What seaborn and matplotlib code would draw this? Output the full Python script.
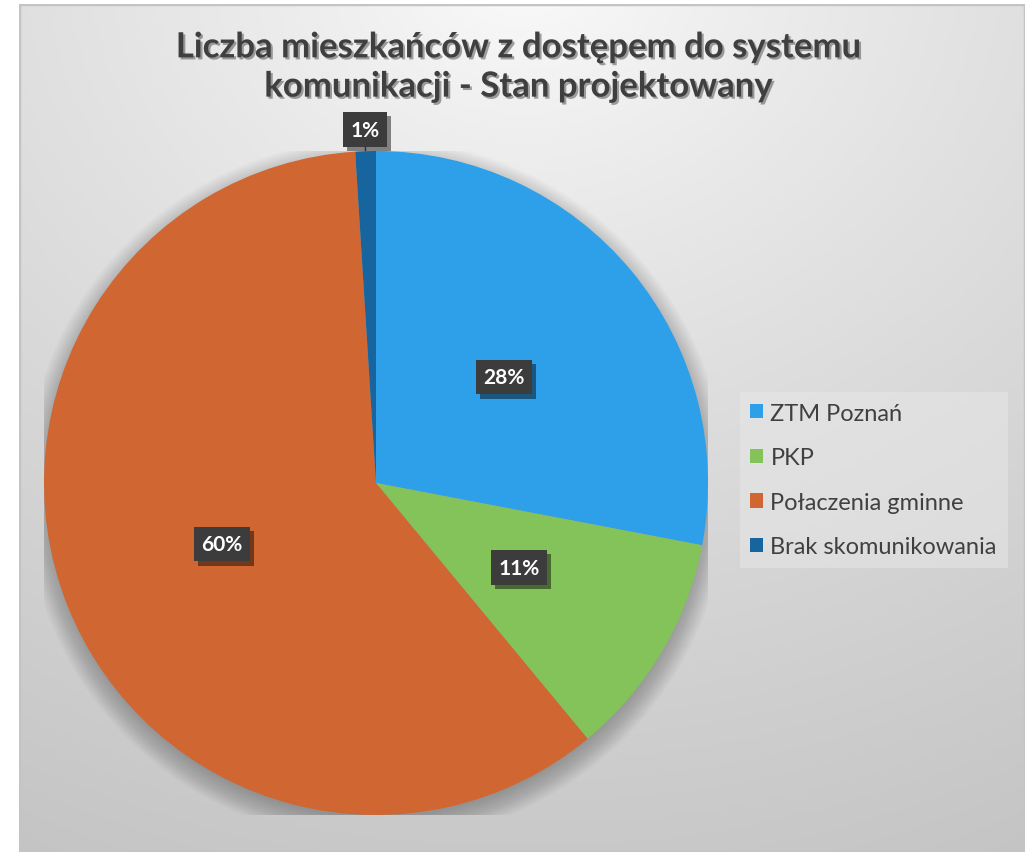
import numpy as np
import matplotlib
matplotlib.use("Agg")
import matplotlib.pyplot as plt
import matplotlib.patheffects as pe
from matplotlib.patches import Rectangle, Circle
import seaborn as sns

# Data
categories = ["ZTM Poznań", "PKP", "Połaczenia gminne", "Brak skomunikowania"]
shares = [28, 11, 60, 1]
pct_labels = ["28%", "11%", "60%", "1%"]
colors = ["#2E9FE9", "#84C25A", "#D06631", "#16659F"]
title = "Liczba mieszkańców z dostępem do systemu\nkomunikacji - Stan projektowany"

sns.set_theme(style="white")
plt.rcParams["font.family"] = ["Lato", "DejaVu Sans"]

W, H = 1025, 853
fig = plt.figure(figsize=(W / 100, H / 100), dpi=100)
fig.patch.set_facecolor("white")

# Chart area background: soft radial grey gradient
bg = fig.add_axes([19 / W, 0, 1 - 19 / W, 1 - 5 / H])
bg.set_axis_off()
ny, nx = 200, 240
yy, xx = np.mgrid[0:ny, 0:nx]
cx, cy = nx * 0.5, -ny * 0.05
d = np.sqrt(((xx - cx) / nx) ** 2 + ((yy - cy) / ny) ** 2)
d = d / d.max()
val = 0.99 - 0.22 * np.clip(d, 0, 1) ** 0.8
img = np.dstack([val, val, val])
bg.imshow(img, extent=[0, 1, 0, 1], aspect="auto", origin="upper", zorder=0)
bg.add_patch(Rectangle((0, 0), 1, 1, fill=False, edgecolor="#c4c4c4", lw=2.5,
                       transform=bg.transAxes))
bg.set_xlim(0, 1)
bg.set_ylim(0, 1)

# Pie axes: centre (376, 484) px, radius 332 px
cxp, cyp, R = 376, 484, 332
ax = fig.add_axes([(cxp - R) / W, (H - cyp - R) / H, 2 * R / W, 2 * R / H])

# soft shadow under the pie
for k in range(22):
    ax.add_patch(Circle((0, -0.022), 0.985 + 0.0035 * k, facecolor="black",
                        alpha=0.011, lw=0, zorder=0))

wedges, _ = ax.pie(shares, colors=colors, startangle=90, counterclock=False,
                   radius=1.0, wedgeprops=dict(linewidth=0))
for w in wedges:
    w.set_zorder(2)
ax.set_axis_off()
ax.set_xlim(-1, 1)
ax.set_ylim(-1, 1)

label_fx = [pe.withSimplePatchShadow(offset=(3, -3), shadow_rgbFace="black", alpha=0.45)]
total = float(sum(shares))
start = 90.0
for lab, s in zip(pct_labels, shares):
    span = 360.0 * s / total
    mid = np.deg2rad(start - span / 2)
    start -= span
    if s / total < 0.05:
        r = 1.065
        x, y = r * np.cos(mid), r * np.sin(mid)
        ax.plot([np.cos(mid) * 1.0, np.cos(mid) * 1.035],
                [np.sin(mid) * 1.0, np.sin(mid) * 1.035],
                color="#555555", lw=1, zorder=3, clip_on=False)
    else:
        r = 0.5
        x, y = r * np.cos(mid), r * np.sin(mid)
    t = ax.text(x, y, lab, ha="center", va="center", color="white",
                fontsize=15, fontweight="bold", zorder=5, clip_on=False,
                bbox=dict(boxstyle="square,pad=0.35", facecolor="#3c3c3c",
                          edgecolor="none"))
    t.get_bbox_patch().set_path_effects(label_fx)

# Title
fig.text(0.506, 1 - 68 / H, title, ha="center", va="center", fontsize=25,
         fontweight="bold", color="#3f3f3f", linespacing=1.28,
         path_effects=[pe.withSimplePatchShadow(offset=(1.5, -1.5),
                                                shadow_rgbFace="black", alpha=0.35)])

# Legend
handles = [Rectangle((0, 0), 1, 1, facecolor=c, edgecolor="none") for c in colors]
leg = fig.legend(handles, categories, loc="center left",
                 bbox_to_anchor=(728 / W, 1 - 481 / H), frameon=True,
                 fontsize=17, labelcolor="#404040", handlelength=0.55,
                 handleheight=0.55, handletextpad=0.3, labelspacing=1.0,
                 borderpad=0.45, fancybox=False)
leg.get_frame().set_facecolor("#e8e8e8")
leg.get_frame().set_alpha(0.5)
leg.get_frame().set_edgecolor("none")

fig.savefig("out.png", dpi=100)
